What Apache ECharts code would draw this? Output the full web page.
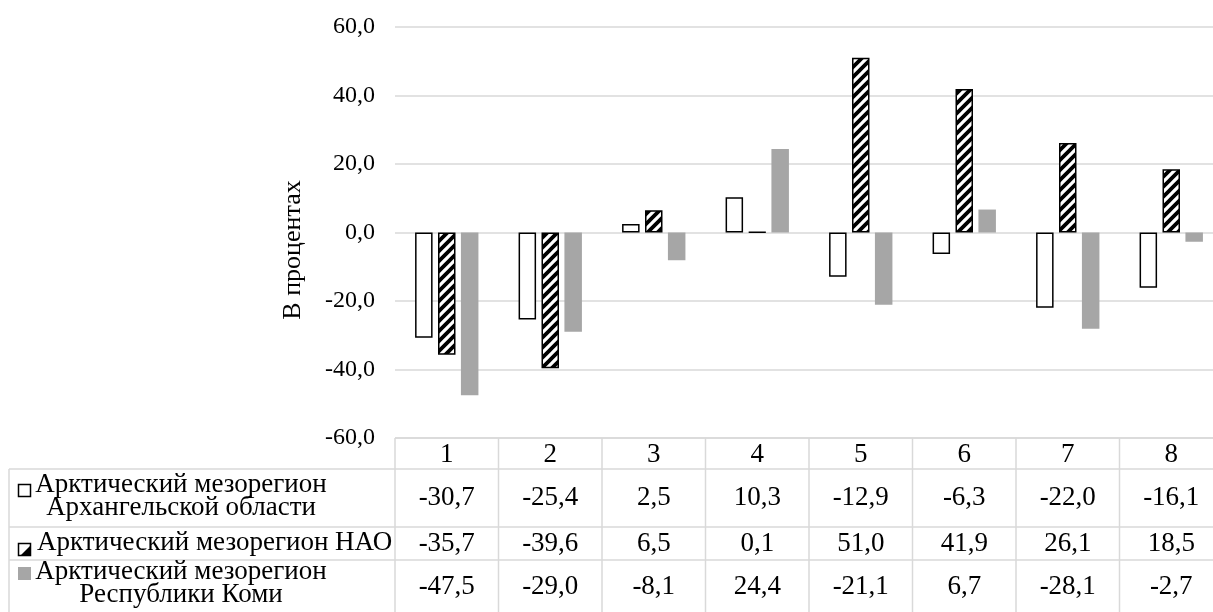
<!DOCTYPE html>
<html><head><meta charset="utf-8">
<script src="https://cdn.jsdelivr.net/npm/echarts@6/dist/echarts.min.js"></script>
<style>html,body{margin:0;padding:0;background:#fff}#c{width:1213px;height:612px}</style>
</head><body><div id="c"></div>
<script>
// ---- data ----
const categories = ['1', '2', '3', '4', '5', '6', '7', '8'];
const seriesNames = [
  'Арктический мезорегион\nАрхангельской области',
  'Арктический мезорегион НАО',
  'Арктический мезорегион\nРеспублики Коми'
];
const arkhangelsk = [-30.7, -25.4, 2.5, 10.3, -12.9, -6.3, -22.0, -16.1];
const nao = [-35.7, -39.6, 6.5, 0.1, 51.0, 41.9, 26.1, 18.5];
const komi = [-47.5, -29.0, -8.1, 24.4, -21.1, 6.7, -28.1, -2.7];
const yMin = -60, yMax = 60, yStep = 20;
const yTitle = 'В процентах';

// ---- styles ----
const FONT = '"Liberation Serif", "Times New Roman", serif';
const BORDER = '#d9d9d9';
const GRAY = '#a6a6a6';
const TABLE_FS = 27;
const fmt = v => v.toFixed(1).replace('.', ',');

function hatchCanvas() {
  const c = document.createElement('canvas');
  c.width = 10; c.height = 10;
  const g = c.getContext('2d');
  g.fillStyle = '#fff'; g.fillRect(0, 0, 10, 10);
  g.strokeStyle = '#000'; g.lineWidth = 3.8;
  g.beginPath();
  for (const o of [-10, 0, 10]) { g.moveTo(o - 2, 12); g.lineTo(o + 12, -2); }
  g.stroke();
  return c;
}
const hatch = { image: hatchCanvas(), repeat: 'repeat' };

const styles = [
  { color: '#fff', borderColor: '#000', borderWidth: 1.5 },
  { color: hatch, borderColor: '#000', borderWidth: 1.5 },
  { color: GRAY, borderWidth: 0 }
];
const allData = [arkhangelsk, nao, komi];

const chart = echarts.init(document.getElementById('c'), null, { renderer: 'canvas' });
const option = {
  animation: false,
  backgroundColor: '#fff',
  grid: { left: 395, top: 27, width: 828, height: 411, containLabel: false, outerBoundsMode: 'none' },
  xAxis: {
    type: 'category', data: categories,
    axisLine: { show: false }, axisTick: { show: false }, axisLabel: { show: false },
    splitLine: { show: false }
  },
  yAxis: {
    type: 'value', min: yMin, max: yMax, interval: yStep,
    axisLine: { show: false }, axisTick: { show: false },
    axisLabel: { formatter: fmt, fontFamily: FONT, fontSize: 24, color: '#000', margin: 20 },
    splitLine: { lineStyle: { color: BORDER, width: 1.5 } }
  },
  series: allData.map((d, i) => ({
    type: 'bar', name: seriesNames[i], data: d,
    barWidth: 17.5, barGap: '31%',
    itemStyle: styles[i]
  }))
};
chart.setOption(option);

// ---- data table below the plot ----
const c0 = chart.convertToPixel({ xAxisIndex: 0 }, 0);
const c1 = chart.convertToPixel({ xAxisIndex: 0 }, 1);
const colW = c1 - c0;
const tLeft = c0 - colW / 2;
const tRight = tLeft + colW * categories.length;
const tTop = chart.convertToPixel({ yAxisIndex: 0 }, yMin);
const legendLeft = 9;
const rowH = [31, 58, 33, 54];
const rowY = [tTop];
rowH.forEach(h => rowY.push(rowY[rowY.length - 1] + h));

const g = [];
const line = (x1, y1, x2, y2) => g.push({ type: 'line', shape: { x1, y1, x2, y2 }, style: { stroke: BORDER, lineWidth: 1.5 }, silent: true });
const text = (x, y, t, align, size, extra) => g.push({ type: 'text', x, y, style: Object.assign({ text: t, fill: '#000', font: size + 'px ' + FONT, align: align, verticalAlign: 'middle' }, extra || {}), silent: true });

// horizontal borders
line(tLeft, rowY[0], tRight, rowY[0]);
for (let r = 1; r < rowY.length; r++) line(legendLeft, rowY[r], tRight, rowY[r]);
// vertical borders
line(legendLeft, rowY[1], legendLeft, rowY[4]);
for (let k = 0; k <= categories.length; k++) line(tLeft + k * colW, rowY[0], tLeft + k * colW, rowY[4]);

// header
categories.forEach((c, i) => text(tLeft + colW * (i + 0.5), (rowY[0] + rowY[1]) / 2 + 1, c, 'center', TABLE_FS));
// values
allData.forEach((d, s) => {
  const cy = (rowY[s + 1] + rowY[s + 2]) / 2;
  d.forEach((v, i) => text(tLeft + colW * (i + 0.5), cy, fmt(v), 'center', TABLE_FS));
});

// legend cells
const iconX = 18, iconS = 12;
// row 1: white square
g.push({ type: 'rect', shape: { x: iconX + 0.5, y: 484.5, width: iconS, height: iconS }, style: { fill: '#fff', stroke: '#000', lineWidth: 1.5 }, silent: true });
text(181, 496, seriesNames[0], 'center', TABLE_FS, { lineHeight: 23 });
// row 2: hatched icon
g.push({ type: 'rect', shape: { x: iconX + 0.5, y: 543.5, width: iconS, height: iconS }, style: { fill: '#fff', stroke: '#000', lineWidth: 1.5 }, silent: true });
g.push({ type: 'polygon', shape: { points: [[iconX + 0.5 + iconS, 543.5 + 2], [iconX + 0.5 + iconS, 543.5 + iconS], [iconX + 2.5, 543.5 + iconS]] }, style: { fill: '#000' }, silent: true });
text(37, 543, seriesNames[1], 'left', TABLE_FS);
// row 3: gray square
g.push({ type: 'rect', shape: { x: iconX, y: 567, width: iconS + 1, height: iconS + 1 }, style: { fill: GRAY }, silent: true });
text(181, 583, seriesNames[2], 'center', TABLE_FS, { lineHeight: 23 });

// y axis title
g.push({ type: 'text', x: 293, y: 250, rotation: Math.PI / 2, style: { text: yTitle, fill: '#000', font: '26px ' + FONT, align: 'center', verticalAlign: 'middle' }, silent: true });

chart.setOption({ graphic: g });
</script></body></html>
